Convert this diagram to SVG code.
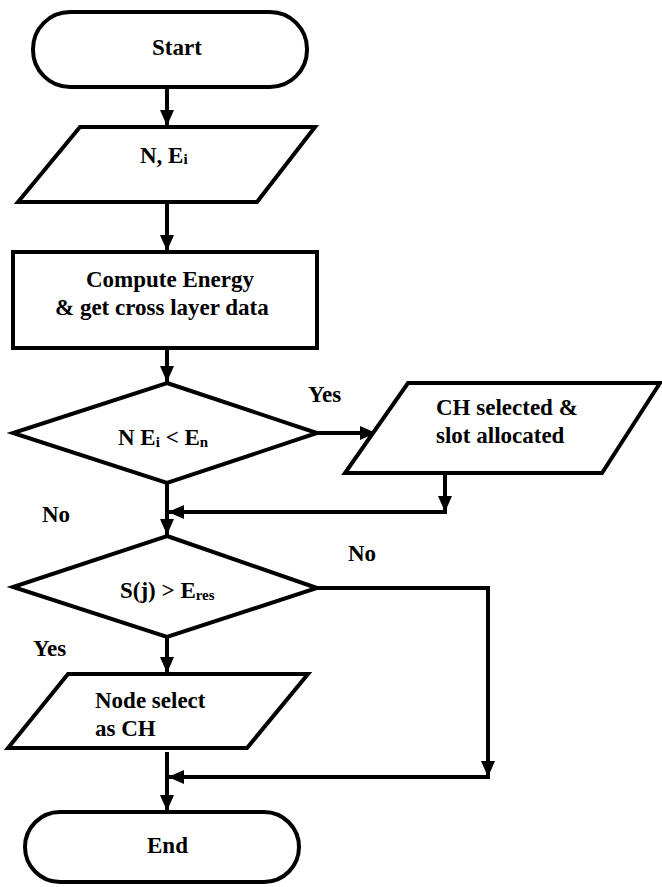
<svg xmlns="http://www.w3.org/2000/svg" width="662" height="887" viewBox="0 0 662 887">
<style>
.s{fill:#fff;stroke:#000;stroke-width:4;stroke-linejoin:miter}
.c{fill:none;stroke:#000;stroke-width:4}
.t{font-family:"Liberation Serif","DejaVu Serif",serif;font-weight:bold;font-size:23px;fill:#000}
.sub{font-size:15px}
</style>
<defs>
<marker id="ah" markerUnits="userSpaceOnUse" markerWidth="16" markerHeight="16" refX="16" refY="7" orient="auto">
<path d="M0,0 L16,7 L0,14 z" fill="#000"/>
</marker>
</defs>
<rect width="662" height="887" fill="#fff"/>
<g id="connectors">
<path class="c" d="M167,87 V126" marker-end="url(#ah)"/>
<path class="c" d="M167,203 V251" marker-end="url(#ah)"/>
<path class="c" d="M167,348 V382" marker-end="url(#ah)"/>
<path class="c" d="M317,433 H376" marker-end="url(#ah)"/>
<path class="c" d="M445,475 V512" marker-end="url(#ah)"/>
<path class="c" d="M447,512 H168" marker-end="url(#ah)"/>
<path class="c" d="M167,483 V535" marker-end="url(#ah)"/>
<path class="c" d="M317,588 H488 V777" marker-end="url(#ah)"/>
<path class="c" d="M490,777 H168" marker-end="url(#ah)"/>
<path class="c" d="M167,637 V673" marker-end="url(#ah)"/>
<path class="c" d="M167,752 V811" marker-end="url(#ah)"/>
</g>
<g id="start">
<rect class="s" x="33" y="12" width="274" height="75" rx="37" ry="37"/>
<text class="t" font-family="Liberation Serif" x="152" y="55">Start</text>
</g>
<g id="input">
<polygon class="s" points="80,127 315,127 257,202 18,202"/>
<text class="t" x="140" y="163">N, E<tspan class="sub" dy="1">i</tspan></text>
</g>
<g id="compute">
<rect class="s" x="13" y="252" width="304" height="96"/>
<text class="t" x="86" y="287">Compute Energy</text>
<text class="t" x="55" y="315">&amp; get cross layer data</text>
</g>
<g id="decision1">
<polygon class="s" points="167,383 317,433 167,483 13,433"/>
<text class="t" x="118" y="445">N E<tspan class="sub" dy="2">i</tspan><tspan dy="-2"> &lt; E</tspan><tspan class="sub" dy="2">n</tspan></text>
</g>
<g id="ch-selected">
<polygon class="s" points="408,383 660,383 602,473 345,473"/>
<text class="t" x="436" y="415">CH selected &amp;</text>
<text class="t" x="436" y="443">slot allocated</text>
</g>
<g id="decision2">
<polygon class="s" points="167,536 317,588 167,637 13,587"/>
<text class="t" x="120" y="598">S(j) &gt; E<tspan class="sub" dy="2">res</tspan></text>
</g>
<g id="node-select">
<polygon class="s" points="68,674 308,674 247,748 8,748"/>
<text class="t" x="95" y="708">Node select</text>
<text class="t" x="95" y="736">as CH</text>
</g>
<g id="end">
<rect class="s" x="25" y="812" width="274" height="70" rx="35" ry="35"/>
<text class="t" x="147" y="853">End</text>
</g>
<g id="labels">
<text class="t" x="308" y="402">Yes</text>
<text class="t" x="42" y="522">No</text>
<text class="t" x="348" y="561">No</text>
<text class="t" x="33" y="656">Yes</text>
</g>
</svg>
